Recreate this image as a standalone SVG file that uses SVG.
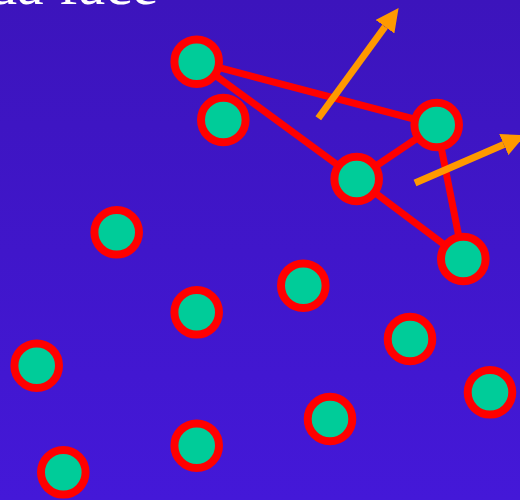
<svg xmlns="http://www.w3.org/2000/svg" width="520" height="500" viewBox="0 0 520 500">
<defs>
<linearGradient id="bg" x1="0" y1="0" x2="0" y2="1">
<stop offset="0" stop-color="#3c14bc"/>
<stop offset="1" stop-color="#4418d8"/>
</linearGradient>
<marker id="ah" viewBox="0 0 10 10" markerWidth="3.3" markerHeight="3.3" refX="0" refY="5" orient="auto" markerUnits="strokeWidth">
<path d="M0,0 L10,5 L0,10 z" fill="#ff9900"/>
</marker>
</defs>
<style>
.n{fill:#00cc99;stroke:#ff0000;stroke-width:8}
.e{stroke:#ff0000;stroke-width:7;fill:none}
.a{stroke:#ff9900;stroke-width:7;fill:none}
.t{font-family:"Liberation Serif",serif;font-size:60px;fill:#ffffff}
</style>
<rect width="520" height="500" fill="url(#bg)"/>
<text class="t" x="-13" y="4">da face</text>
<g id="connectors">
<line class="e" x1="196.7" y1="61.7" x2="436.7" y2="125"/>
<line class="e" x1="196.7" y1="61.7" x2="356.7" y2="179"/>
<line class="e" x1="356.7" y1="179" x2="436.7" y2="125"/>
<line class="e" x1="356.7" y1="179" x2="463.3" y2="259"/>
<line class="e" x1="436.7" y1="125" x2="463.3" y2="259"/>
<line class="a" x1="318.3" y1="118.3" x2="385" y2="26.7" marker-end="url(#ah)"/>
<line class="a" x1="415" y1="183" x2="503.8" y2="144.5" marker-end="url(#ah)"/>
</g>
<g id="n1"><circle class="n" cx="196.7" cy="61.7" r="22.3"/></g>
<g id="n2"><circle class="n" cx="223.3" cy="120" r="22.3"/></g>
<g id="n3"><circle class="n" cx="436.7" cy="125" r="22.3"/></g>
<g id="n4"><circle class="n" cx="356.7" cy="179" r="22.3"/></g>
<g id="n5"><circle class="n" cx="463.3" cy="259" r="22.3"/></g>
<g id="n6"><circle class="n" cx="116.7" cy="232.3" r="22.3"/></g>
<g id="n7"><circle class="n" cx="303.3" cy="285.7" r="22.3"/></g>
<g id="n8"><circle class="n" cx="196.7" cy="312.3" r="22.3"/></g>
<g id="n9"><circle class="n" cx="410" cy="339" r="22.3"/></g>
<g id="n10"><circle class="n" cx="36.7" cy="365.7" r="22.3"/></g>
<g id="n11"><circle class="n" cx="490" cy="392.3" r="22.3"/></g>
<g id="n12"><circle class="n" cx="330" cy="419" r="22.3"/></g>
<g id="n13"><circle class="n" cx="196.7" cy="445.7" r="22.3"/></g>
<g id="n14"><circle class="n" cx="63.3" cy="472.3" r="22.3"/></g>
</svg>
